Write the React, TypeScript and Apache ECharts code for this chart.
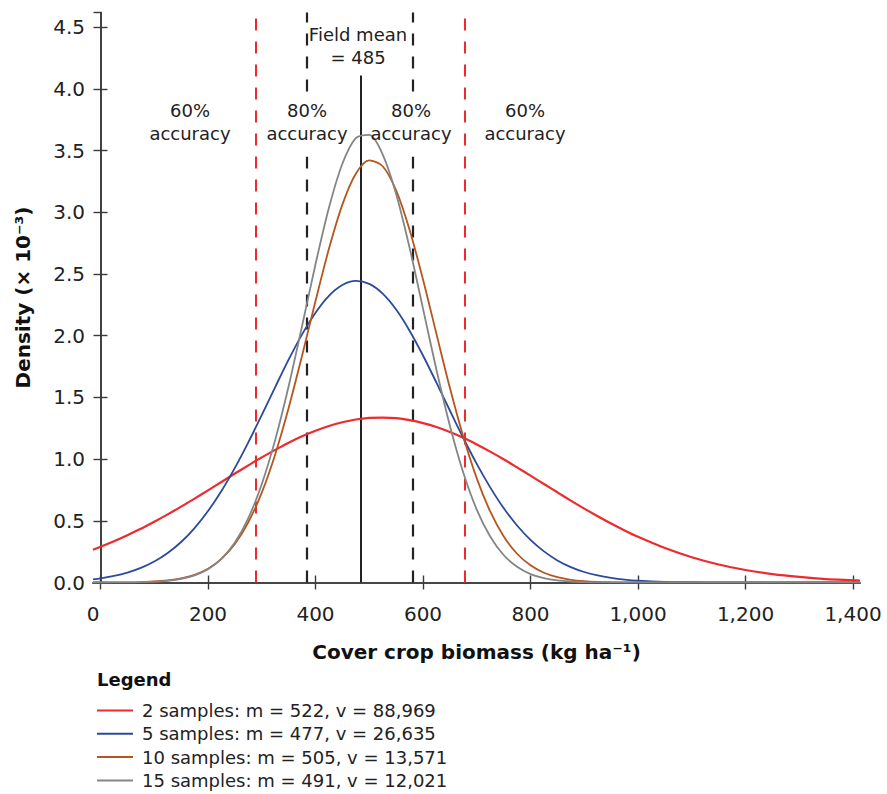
import React, { useEffect, useRef } from "react";
import * as echarts from "echarts";

// x positions (kg ha-1) at which the curves were read
const xs = [
  -14, 0, 25, 50, 75, 100, 125, 150, 175, 200, 225, 250, 275, 300, 325, 350, 375, 400, 425, 450, 475,
  500, 525, 550, 575, 600, 625, 650, 675, 700, 725, 750, 775, 800, 825, 850, 875, 900, 925, 950, 975,
  1000, 1050, 1100, 1150, 1200, 1250, 1300, 1350, 1400, 1413,
];

// densities (× 10^-3)
const dens2 = [
  0.266, 0.289, 0.334, 0.383, 0.435, 0.492, 0.552, 0.615, 0.68, 0.747, 0.815, 0.883, 0.949, 1.014, 1.075, 1.133, 1.185, 1.23, 1.269, 1.299, 1.321,
  1.334, 1.337, 1.332, 1.316, 1.292, 1.26, 1.22, 1.173, 1.119, 1.061, 0.999, 0.933, 0.866, 0.798, 0.731, 0.664, 0.599, 0.537, 0.478, 0.422,
  0.37, 0.279, 0.205, 0.146, 0.101, 0.068, 0.045, 0.028, 0.018, 0.015,
];
const dens5 = [
  0.026, 0.034, 0.053, 0.08, 0.118, 0.17, 0.239, 0.328, 0.441, 0.579, 0.742, 0.929, 1.136, 1.357, 1.584, 1.806, 2.011, 2.187, 2.324, 2.411, 2.444,
  2.42, 2.341, 2.212, 2.041, 1.84, 1.62, 1.394, 1.171, 0.961, 0.771, 0.603, 0.462, 0.345, 0.252, 0.179, 0.125, 0.085, 0.057, 0.037, 0.023,
  0.014, 0.005, 0.002, 0, 0, 0, 0, 0, 0, 0,
];
const dens10 = [
  0, 0, 0.0007, 0.0017, 0.0038, 0.0082, 0.017, 0.033, 0.062, 0.111, 0.191, 0.312, 0.488, 0.728, 1.038, 1.414, 1.838, 2.281, 2.705, 3.063, 3.313,
  3.421, 3.374, 3.178, 2.859, 2.456, 2.015, 1.578, 1.181, 0.844, 0.576, 0.375, 0.233, 0.139, 0.079, 0.043, 0.022, 0.011, 0.005, 0.002, 0.001,
  0, 0, 0, 0, 0, 0, 0, 0, 0, 0,
];
const dens15 = [
  0, 0, 0.0004, 0.0011, 0.0027, 0.0063, 0.014, 0.029, 0.057, 0.107, 0.192, 0.324, 0.522, 0.797, 1.156, 1.591, 2.079, 2.579, 3.037, 3.394, 3.601,
  3.628, 3.469, 3.149, 2.714, 2.22, 1.724, 1.271, 0.89, 0.591, 0.373, 0.223, 0.127, 0.068, 0.035, 0.017, 0.008, 0.0035, 0.0014, 0.0006, 0.0002,
  0, 0, 0, 0, 0, 0, 0, 0, 0, 0,
];

const seriesNames = [
  "2 samples: m = 522, v = 88,969",
  "5 samples: m = 477, v = 26,635",
  "10 samples: m = 505, v = 13,571",
  "15 samples: m = 491, v = 12,021",
];
const seriesColors = ["#ee2a2f", "#2c4a9a", "#b5561f", "#858585"];

const xTickValues = [0, 200, 400, 600, 800, 1000, 1200, 1400];

// reference lines
const fieldMean = 485;
const acc80 = [383, 581];
const acc60 = [288, 677];
const meanLineTop = 4.11;
const gapTop = 3.98;
const gapBottom = 3.45;

const FONT = "DejaVu Sans";

export default function App() {
  const ref = useRef<HTMLDivElement>(null);
  useEffect(() => {
    if (!ref.current) return;
    const chart = echarts.init(ref.current, null, { renderer: "svg" });
    const series = [dens2, dens5, dens10, dens15].map((d, i) => ({
      name: seriesNames[i],
      type: "line",
      data: xs.map((x, j) => [x, d[j]]),
      smooth: 0.3,
      symbol: "none",
      lineStyle: { color: seriesColors[i], width: i === 0 ? 2.2 : 1.8 },
      itemStyle: { color: seriesColors[i] },
      z: 3,
    }));
    const blackDash = { color: "#222", width: 2.2, type: [12, 11] };
    const redDash = { color: "#ee2a2f", width: 2, type: [12, 11] };
    (series[0] as any).markLine = {
      silent: true,
      symbol: ["none", "none"],
      label: { show: false },
      z: 2,
      data: [
        [{ coord: [acc60[0], 0], lineStyle: redDash }, { coord: [acc60[0], 4.62] }],
        [{ coord: [acc60[1], 0], lineStyle: redDash }, { coord: [acc60[1], 4.62] }],
        [{ coord: [acc80[0], 0], lineStyle: blackDash }, { coord: [acc80[0], gapBottom] }],
        [{ coord: [acc80[0], gapTop], lineStyle: blackDash }, { coord: [acc80[0], 4.62] }],
        [{ coord: [acc80[1], 0], lineStyle: blackDash }, { coord: [acc80[1], gapBottom] }],
        [{ coord: [acc80[1], gapTop], lineStyle: blackDash }, { coord: [acc80[1], 4.62] }],
        [{ coord: [fieldMean, 0], lineStyle: { color: "#222", width: 2, type: "solid" } }, { coord: [fieldMean, meanLineTop] }],
      ],
    };
    const axisColor = "#3a3a3a";
    const annot = (text: string, x: number, y: number) => ({
      type: "text",
      x,
      y,
      z: 50,
      style: {
        text,
        font: `18px '${FONT}'`,
        fill: "#222",
        align: "center",
        verticalAlign: "middle",
        lineHeight: 23,
      },
    });
    chart.setOption({
      animation: false,
      grid: { left: 93, top: 12.5, right: 27, bottom: 211.5, containLabel: false },
      xAxis: [
        {
          type: "value",
          min: -13.95,
          max: 1413,
          position: "bottom",
          name: "Cover crop biomass (kg ha⁻¹)",
          nameLocation: "middle",
          nameGap: 59,
          nameTextStyle: { fontFamily: FONT, fontWeight: "bold", fontSize: 20, color: "#111" },
          axisLine: { show: true, lineStyle: { color: axisColor, width: 1.6 } },
          axisTick: { show: true, inside: true, length: 7, customValues: xTickValues, lineStyle: { color: axisColor, width: 1.4 } },
          axisLabel: {
            customValues: xTickValues,
            margin: 21.5,
            fontFamily: FONT,
            fontSize: 20,
            color: "#222",
            formatter: (v: number) => (v === 0 ? "{z|0}" : v.toLocaleString("en-US")),
            rich: { z: { fontFamily: FONT, fontSize: 20, color: "#222", padding: [0, 15, 0, 0] } },
          },
          splitLine: { show: false },
        },
        {
          type: "value",
          min: -13.95,
          max: 1413,
          position: "top",
          axisLine: { show: true, lineStyle: { color: axisColor, width: 1.6 } },
          axisTick: { show: true, inside: true, length: 7, customValues: xTickValues, lineStyle: { color: axisColor, width: 1.4 } },
          axisLabel: { show: false },
          splitLine: { show: false },
        },
      ],
      yAxis: [
        {
          type: "value",
          min: 0,
          max: 4.62,
          interval: 0.5,
          position: "left",
          name: "Density (× 10⁻³)",
          nameLocation: "middle",
          nameGap: 60,
          nameTextStyle: { fontFamily: FONT, fontWeight: "bold", fontSize: 20, color: "#111" },
          axisLine: { show: true, lineStyle: { color: axisColor, width: 1.6 } },
          axisTick: { show: true, inside: true, length: 7, lineStyle: { color: axisColor, width: 1.4 } },
          axisLabel: {
            margin: 8,
            fontFamily: FONT,
            fontSize: 20,
            color: "#222",
            showMaxLabel: false,
            formatter: (v: number) => (Math.abs(v * 2 - Math.round(v * 2)) < 1e-6 ? v.toFixed(1) : ""),
          },
          splitLine: { show: false },
        },
        {
          type: "value",
          min: 0,
          max: 4.62,
          interval: 0.5,
          position: "right",
          axisLine: { show: true, lineStyle: { color: axisColor, width: 1.6 } },
          axisTick: { show: true, inside: true, length: 7, lineStyle: { color: axisColor, width: 1.4 } },
          axisLabel: { show: false },
          splitLine: { show: false },
        },
      ],
      legend: {
        orient: "vertical",
        left: 97,
        top: 700,
        padding: 0,
        icon: "rect",
        itemWidth: 36,
        itemHeight: 2,
        itemGap: 2.3,
        selectedMode: false,
        data: seriesNames,
        textStyle: { fontFamily: FONT, fontSize: 18, color: "#222", lineHeight: 21, padding: [0, 0, 0, 4] },
      },
      graphic: [
        {
          type: "text",
          left: 97,
          top: 670,
          style: { text: "Legend", font: `bold 18px '${FONT}'`, fill: "#111" },
        },
        annot("60%\naccuracy", 190, 121.5),
        annot("80%\naccuracy", 307, 121.5),
        annot("80%\naccuracy", 411, 121.5),
        annot("60%\naccuracy", 525, 121.5),
        annot("Field mean\n= 485", 358, 45.5),
      ],
      series,
    });
    return () => chart.dispose();
  }, []);
  return <div ref={ref} style={{ position: "absolute", left: 0, top: 0, width: 887, height: 794 }} />;
}
